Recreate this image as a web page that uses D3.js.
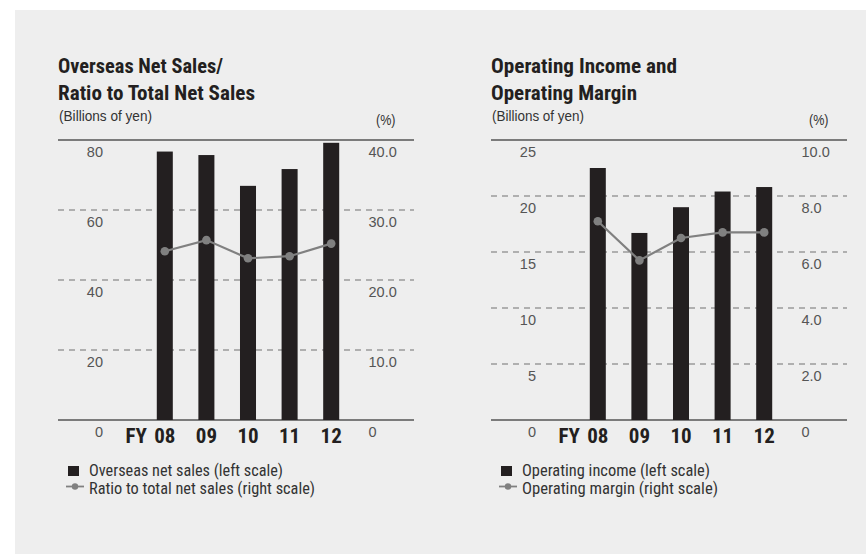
<!DOCTYPE html>
<html>
<head>
<meta charset="utf-8">
<script src="https://cdn.jsdelivr.net/npm/d3@7"></script>
<style>
  html, body { margin: 0; padding: 0; background: #ffffff; }
  svg { display: block; }
</style>
</head>
<body>
<svg id="chart" width="866" height="554"></svg>
<script>
// ---- data ----
const years = ["08", "09", "10", "11", "12"];
const overseasSales = [76.7, 75.7, 66.9, 71.7, 79.2];      // billions of yen (left scale)
const overseasRatio = [24.1, 25.7, 23.1, 23.4, 25.2];      // % (right scale)
const operatingIncome = [22.5, 16.7, 19.0, 20.4, 20.8];   // billions of yen (left scale)
const operatingMargin = [7.1, 5.7, 6.5, 6.7, 6.7];        // % (right scale)

const leftTicksA = [0, 20, 40, 60, 80];
const rightTicksA = [0, 10, 20, 30, 40];
const leftTicksB = [0, 5, 10, 15, 20, 25];
const rightTicksB = [0, 2, 4, 6, 8, 10];

const titleA = ["Overseas Net Sales/", "Ratio to Total Net Sales"];
const titleB = ["Operating Income and", "Operating Margin"];
const legendA = ["Overseas net sales (left scale)", "Ratio to total net sales (right scale)"];
const legendB = ["Operating income (left scale)", "Operating margin (right scale)"];
const unitLeft = "(Billions of yen)";
const unitRight = "(%)";

// ---- styling ----
const condensed = "'Liberation Sans Narrow', 'Arial Narrow', 'Roboto Condensed', 'Liberation Sans', Arial, sans-serif";
const regular = "'Liberation Sans', Arial, Helvetica, sans-serif";

const svg = d3.select("#chart");
svg.append("rect").attr("x", 15).attr("y", 10).attr("width", 851).attr("height", 544).attr("fill", "#eeeeee");

const charts = [
  { x0: 58, bars: overseasSales, line: overseasRatio, lt: leftTicksA, rt: rightTicksA,
    title: titleA, legend: legendA, titleW: [165, 197], legendW: [194, 226], unitW: 93 },
  { x0: 491, bars: operatingIncome, line: operatingMargin, lt: leftTicksB, rt: rightTicksB,
    title: titleB, legend: legendB, titleW: [186, 146], legendW: [188, 196], unitW: 92 }
];

const plotTop = 140, plotBottom = 420, plotW = 356;

charts.forEach(c => {
  const g = svg.append("g");
  const x = d3.scaleBand().domain(years).range([c.x0 + 86, c.x0 + 294]).paddingInner(0.615).paddingOuter(0.3075);
  const yL = d3.scaleLinear().domain([0, d3.max(c.lt)]).range([plotBottom, plotTop]);
  const yR = d3.scaleLinear().domain([0, d3.max(c.rt)]).range([plotBottom, plotTop]);

  // titles
  c.title.forEach((t, i) => {
    g.append("text").attr("x", c.x0).attr("y", i === 0 ? 72.5 : 100)
      .attr("font-family", condensed).attr("font-weight", "bold").attr("font-size", 21)
      .attr("fill", "#231f20")
      .attr("textLength", c.titleW[i]).attr("lengthAdjust", "spacingAndGlyphs")
      .text(t);
  });
  g.append("text").attr("x", c.x0 + 1).attr("y", 121)
    .attr("font-family", regular).attr("font-size", 14).attr("fill", "#333")
    .attr("textLength", c.unitW).attr("lengthAdjust", "spacingAndGlyphs")
    .text(unitLeft);
  g.append("text").attr("x", c.x0 + 318).attr("y", 125)
    .attr("font-family", regular).attr("font-size", 14).attr("fill", "#333")
    .attr("textLength", 19.5).attr("lengthAdjust", "spacingAndGlyphs")
    .text(unitRight);

  // dashed gridlines
  const gridTicks = c.lt.filter(v => v > 0 && v < d3.max(c.lt));
  g.selectAll("line.grid").data(gridTicks).join("line")
    .attr("class", "grid")
    .attr("x1", c.x0).attr("x2", c.x0 + plotW)
    .attr("y1", d => yL(d)).attr("y2", d => yL(d))
    .attr("stroke", "#707070").attr("stroke-width", 1.2).attr("stroke-dasharray", "6,5");

  // top and base lines
  [d3.max(c.lt), 0].forEach(v => {
    g.append("line").attr("x1", c.x0).attr("x2", c.x0 + plotW)
      .attr("y1", yL(v)).attr("y2", yL(v))
      .attr("stroke", "#555").attr("stroke-width", 1.6);
  });

  // bars
  g.selectAll("rect.bar").data(c.bars).join("rect")
    .attr("class", "bar")
    .attr("x", (d, i) => x(years[i]))
    .attr("width", x.bandwidth())
    .attr("y", d => yL(d))
    .attr("height", d => plotBottom - yL(d))
    .attr("fill", "#231f20");

  // line + markers
  const line = d3.line().x((d, i) => x(years[i]) + x.bandwidth() / 2).y(d => yR(d));
  g.append("path").datum(c.line).attr("d", line)
    .attr("fill", "none").attr("stroke", "#808080").attr("stroke-width", 2.2);
  g.selectAll("circle.pt").data(c.line).join("circle")
    .attr("class", "pt")
    .attr("cx", (d, i) => x(years[i]) + x.bandwidth() / 2)
    .attr("cy", d => yR(d)).attr("r", 4.3).attr("fill", "#808080");

  // left axis labels
  const axL = g.append("g").attr("transform", `translate(${c.x0 + 45},0)`)
    .call(d3.axisLeft(yL).tickValues(c.lt).tickSize(0).tickPadding(0).tickFormat(d3.format("d")));
  axL.select(".domain").remove();
  axL.selectAll("text").attr("dy", 16).attr("font-family", regular).attr("font-size", 14.5).attr("fill", "#555");

  // right axis labels
  const axR = g.append("g").attr("transform", `translate(${c.x0 + 310.5},0)`)
    .call(d3.axisRight(yR).tickValues(c.rt).tickSize(0).tickPadding(0)
      .tickFormat(d => d === 0 ? "0" : d3.format(".1f")(d)));
  axR.select(".domain").remove();
  axR.selectAll("text").attr("dy", 16).attr("font-family", regular).attr("font-size", 14.5).attr("fill", "#555");

  // x axis labels
  const axX = g.append("g").attr("transform", `translate(0,${plotBottom})`)
    .call(d3.axisBottom(x).tickSize(0).tickPadding(0));
  axX.select(".domain").remove();
  axX.selectAll("text").attr("dy", 23).attr("y", 0)
    .attr("font-family", condensed).attr("font-weight", "bold").attr("font-size", 21).attr("fill", "#231f20");
  g.append("text").attr("x", x(years[0]) + x.bandwidth() / 2 - 18).attr("y", plotBottom + 23)
    .attr("text-anchor", "end")
    .attr("font-family", condensed).attr("font-weight", "bold").attr("font-size", 21).attr("fill", "#231f20")
    .text("FY");

  // legend
  const lx = c.x0 + 10;
  g.append("rect").attr("x", lx).attr("y", 466).attr("width", 11).attr("height", 10).attr("fill", "#231f20");
  g.append("line").attr("x1", lx - 2).attr("x2", lx + 16).attr("y1", 486.5).attr("y2", 486.5)
    .attr("stroke", "#808080").attr("stroke-width", 1.8);
  g.append("circle").attr("cx", lx + 7).attr("cy", 486.5).attr("r", 3.2).attr("fill", "#808080");
  c.legend.forEach((t, i) => {
    g.append("text").attr("x", lx + 21).attr("y", i === 0 ? 475.5 : 493.5)
      .attr("font-family", condensed).attr("font-size", 16).attr("fill", "#333")
      .attr("textLength", c.legendW[i]).attr("lengthAdjust", "spacingAndGlyphs")
      .text(t);
  });
});
</script>
</body>
</html>
